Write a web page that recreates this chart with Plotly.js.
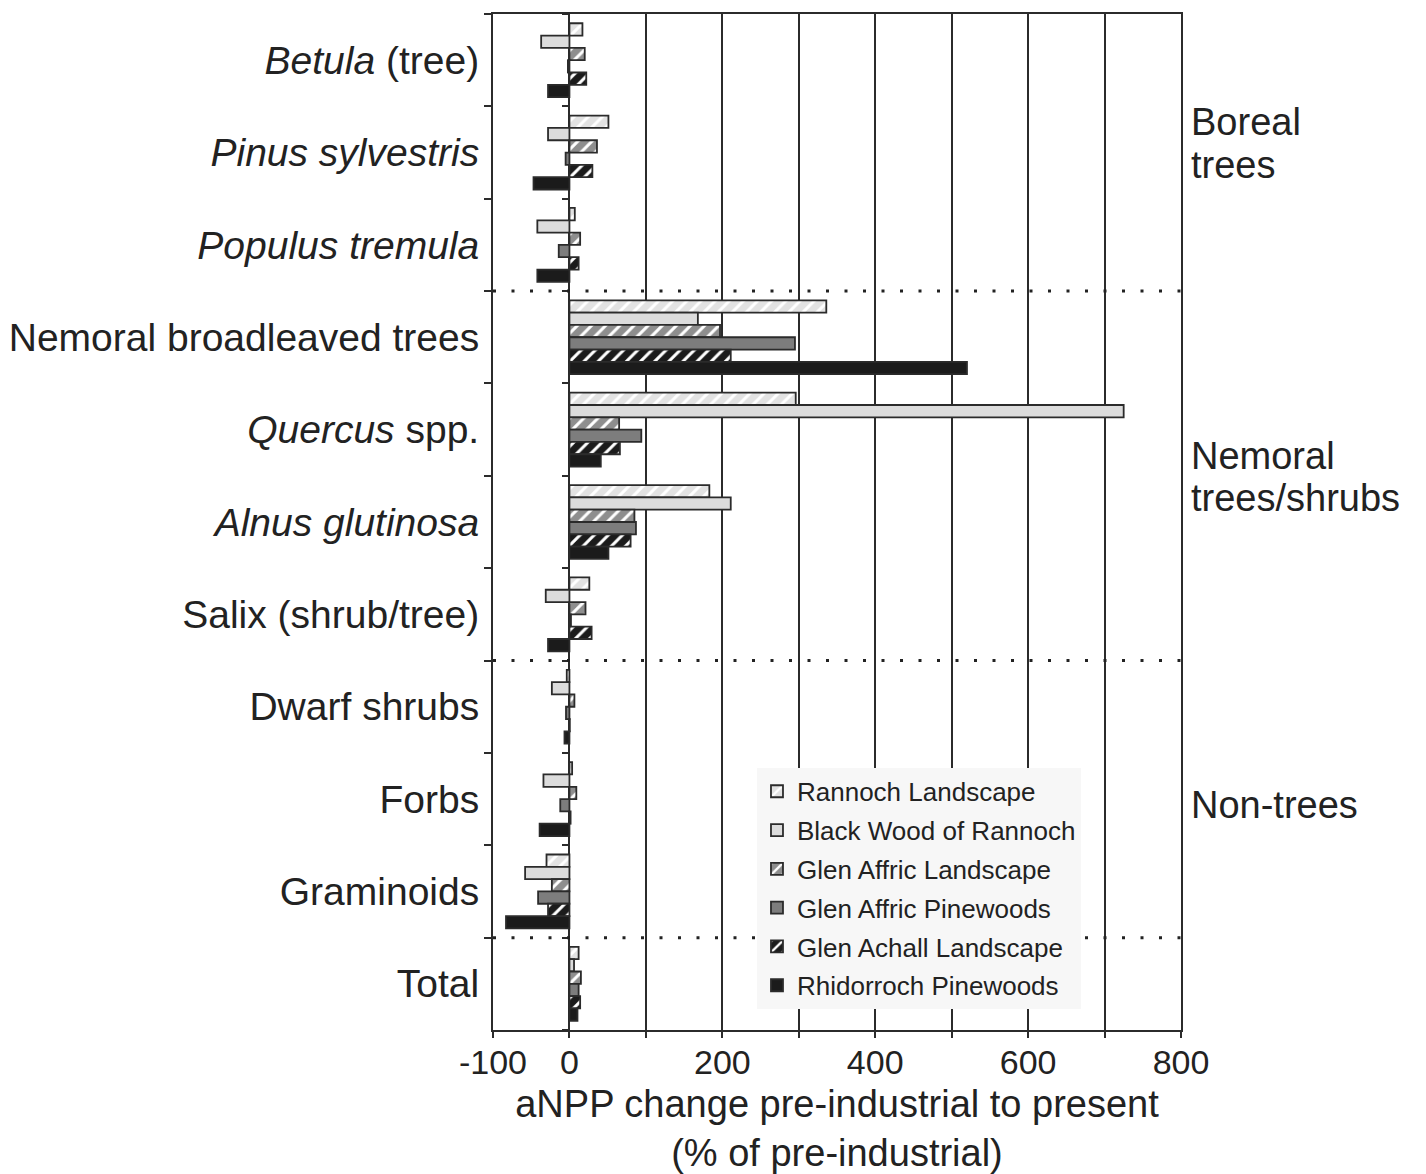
<!DOCTYPE html>
<html>
<head>
<meta charset="utf-8">
<script src="https://cdn.plot.ly/plotly-3.0.1.min.js"></script>
<style>html,body{margin:0;padding:0;background:#fff;}#chart{width:1426px;height:1174px;}</style>
</head>
<body>
<div id="chart"></div>
<script>
// Categories (top to bottom)
const categories = [
  "<i>Betula</i> (tree)",
  "<i>Pinus sylvestris</i>",
  "<i>Populus tremula</i>",
  "Nemoral broadleaved trees",
  "<i>Quercus</i> spp.",
  "<i>Alnus glutinosa</i>",
  "Salix (shrub/tree)",
  "Dwarf shrubs",
  "Forbs",
  "Graminoids",
  "Total"
];

// Series values (aNPP change, % of pre-industrial)
const rannochLandscape     = [17, 51, 7, 336, 296, 183, 26, -3.5, 3.5, -30, 12];
const blackWoodOfRannoch   = [-37, -28, -42, 168, 725, 211, -31, -23, -34, -58, 6];
const glenAffricLandscape  = [20, 36, 14, 197, 65, 85, 21, 6.5, 9, -23, 15];
const glenAffricPinewoods  = [-2, -5, -14, 295, 94, 87, 2, -4.5, -12, -41, 12];
const glenAchallLandscape  = [22, 30, 12, 211, 66, 80, 29, 0.5, 1.5, -28, 14];
const rhidorrochPinewoods  = [-28, -47, -42, 520, 41, 51, -28, -6.5, -39, -83, 10.5];

const seriesNames = [
  "Rannoch Landscape",
  "Black Wood of Rannoch",
  "Glen Affric Landscape",
  "Glen Affric Pinewoods",
  "Glen Achall Landscape",
  "Rhidorroch Pinewoods"
];

// Axis ticks
const xTickVals = [-100, 0, 100, 200, 300, 400, 500, 600, 700, 800];
const xTickText = ["-100", "0", "", "200", "", "400", "", "600", "", "800"];

// Group labels on the right
const groupLabelLines = ["Boreal", "trees", "Nemoral", "trees/shrubs", "Non-trees"];
const groupLabelPos   = [0.67, 1.14, 4.28, 4.74, 8.06];
// Group separators (category boundaries)
const separatorPos = [2.5, 6.5, 9.5];

const seriesValues = [rannochLandscape, blackWoodOfRannoch, glenAffricLandscape,
                      glenAffricPinewoods, glenAchallLandscape, rhidorrochPinewoods];

const styles = [
  {color: "#e2e2e2", pattern: {shape: "/", bgcolor: "#e2e2e2", fgcolor: "#ffffff", size: 10, solidity: 0.3, fillmode: "replace"}},
  {color: "#dcdcdc"},
  {color: "#8e8e8e", pattern: {shape: "/", bgcolor: "#8e8e8e", fgcolor: "#ffffff", size: 10, solidity: 0.3, fillmode: "replace"}},
  {color: "#7d7d7d"},
  {color: "#1b1b1b", pattern: {shape: "/", bgcolor: "#1b1b1b", fgcolor: "#ffffff", size: 10, solidity: 0.3, fillmode: "replace"}},
  {color: "#1b1b1b"}
];

const lineCol = "#2b2b2b";
const textCol = "#222222";
const font = "Liberation Sans, Arial, sans-serif";

const traces = seriesNames.map((name, i) => {
  const marker = {color: styles[i].color, line: {color: lineCol, width: 1.8}};
  if (styles[i].pattern) marker.pattern = styles[i].pattern;
  return {
    type: "bar",
    orientation: "h",
    name: name,
    legendgroup: "g" + i,
    x: seriesValues[i],
    y: categories,
    marker: marker,
    hoverinfo: "x+y+name"
  };
});

const shapes = separatorPos.map(p => ({
  type: "line", xref: "paper", yref: "y2",
  x0: 0, x1: 1, y0: p, y1: p,
  line: {color: "#222", width: 3, dash: "3px,15.5px"},
  layer: "above"
}));

const annotations = groupLabelLines.map((t, i) => ({
  text: t, xref: "paper", yref: "y2",
  x: 1.012, y: groupLabelPos[i],
  xanchor: "left", yanchor: "middle",
  showarrow: false, align: "left",
  font: {family: font, size: 38, color: textCol}
}));

const boundaryVals = [];
for (let k = 0; k <= categories.length; k++) boundaryVals.push(k - 0.5);

const layout = {
  width: 1426, height: 1174,
  margin: {l: 493, r: 245, t: 14, b: 144},
  paper_bgcolor: "#ffffff",
  plot_bgcolor: "#ffffff",
  font: {family: font, color: textCol},
  barmode: "group",
  bargap: 0.2,
  bargroupgap: 0,
  showlegend: true,
  legend: {
    x: 0.3837, y: 0.258, xanchor: "left", yanchor: "top",
    bgcolor: "#f7f7f7", borderwidth: 0,
    font: {family: font, size: 26, color: textCol},
    traceorder: "grouped", tracegroupgap: 2
  },
  xaxis: {
    range: [-100, 800],
    tickmode: "array", tickvals: xTickVals, ticktext: xTickText,
    ticks: "outside", ticklen: 6, tickwidth: 2, tickcolor: lineCol,
    showgrid: true, gridcolor: lineCol, gridwidth: 2,
    zeroline: true, zerolinecolor: lineCol, zerolinewidth: 2,
    showline: true, linecolor: lineCol, linewidth: 2, mirror: true,
    tickfont: {family: font, size: 34, color: textCol},
    ticklabelstandoff: -5,
    title: {text: "aNPP change pre-industrial to present<br>(% of pre-industrial)",
            font: {family: font, size: 38, color: textCol}, standoff: 18},
    automargin: false,
    fixedrange: true
  },
  yaxis: {
    type: "category",
    categoryorder: "array", categoryarray: categories,
    autorange: "reversed",
    tickson: "boundaries",
    ticks: "outside", ticklen: 7, tickwidth: 2, tickcolor: lineCol,
    showgrid: false, zeroline: false,
    showline: true, linecolor: lineCol, linewidth: 2, mirror: true,
    tickfont: {family: font, size: 39, color: textCol},
    ticklabelstandoff: 4,
    automargin: false,
    fixedrange: true
  },
  yaxis2: {
    overlaying: "y",
    anchor: "free",
    position: 100 / 900,
    side: "left",
    range: [categories.length - 0.5, -0.5],
    tickmode: "array", tickvals: boundaryVals,
    ticks: "outside", ticklen: 7, tickwidth: 2, tickcolor: lineCol,
    showticklabels: false, showgrid: false, zeroline: false, showline: false,
    fixedrange: true
  },
  shapes: shapes,
  annotations: annotations
};

Plotly.newPlot("chart", traces, layout, {displayModeBar: false, staticPlot: true});
</script>
</body>
</html>
